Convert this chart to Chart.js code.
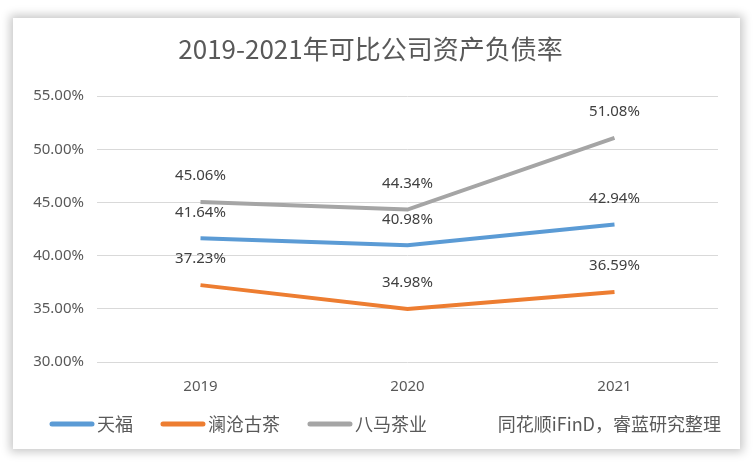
<!DOCTYPE html>
<html>
<head>
<meta charset="utf-8">
<script src="https://cdn.jsdelivr.net/npm/chart.js@4/dist/chart.umd.min.js"></script>
<style>
  html, body { margin: 0; padding: 0; background: #ffffff; }
  body { width: 756px; height: 468px; position: relative; overflow: hidden; }
  .card {
    position: absolute; left: 13px; top: 18px; width: 727px; height: 431px;
    background: #ffffff;
    box-shadow: 0 0 9px 3px rgba(0, 0, 0, 0.22);
  }
  canvas { display: block; }
</style>
</head>
<body>
<div class="card"><canvas id="chart" width="727" height="431"></canvas></div>
<script>
const years = ["2019", "2020", "2021"];
const tianfu = [41.64, 40.98, 42.94];
const lancang = [37.23, 34.98, 36.59];
const bama = [45.06, 44.34, 51.08];
const seriesNames = ["天福", "澜沧古茶", "八马茶业"];
const sourceText = "同花顺iFinD，睿蓝研究整理";

const textColor = "#595959";
const numFont = "'Noto Sans', 'Open Sans', sans-serif";
const cjkFont = "'Noto Sans CJK SC', sans-serif";

const valueLabels = {
  id: "valueLabels",
  afterDatasetsDraw(chart) {
    const { ctx } = chart;
    ctx.save();
    ctx.font = `15px ${numFont}`;
    ctx.fillStyle = "#404040";
    ctx.textAlign = "center";
    ctx.textBaseline = "middle";
    chart.data.datasets.forEach((ds, i) => {
      const meta = chart.getDatasetMeta(i);
      meta.data.forEach((el, j) => {
        ctx.fillText(ds.data[j].toFixed(2) + "%", el.x, el.y - 26);
      });
    });
    ctx.restore();
  },
};

// bottom row: series key on the left, source note on the right
const bottomRow = {
  id: "bottomRow",
  afterDraw(chart) {
    const { ctx } = chart;
    const y = 406;
    ctx.save();
    ctx.font = `18px ${cjkFont}`;
    ctx.fillStyle = textColor;
    ctx.textBaseline = "middle";
    let x = 37;
    chart.data.datasets.forEach((ds) => {
      ctx.strokeStyle = ds.borderColor;
      ctx.lineWidth = 5;
      ctx.lineCap = "round";
      ctx.beginPath();
      ctx.moveTo(x + 2, y);
      ctx.lineTo(x + 42, y);
      ctx.stroke();
      ctx.textAlign = "left";
      ctx.fillText(ds.label, x + 47, y);
      x += 47 + ctx.measureText(ds.label).width + 28;
    });
    ctx.textAlign = "right";
    ctx.fillText(sourceText, 708, y);
    ctx.restore();
  },
};

const makeSeries = (label, data, color) => ({
  label,
  data,
  borderColor: color,
  backgroundColor: color,
  borderWidth: 4,
  pointRadius: 0,
  tension: 0,
});

new Chart(document.getElementById("chart"), {
  type: "line",
  data: {
    labels: years,
    datasets: [
      makeSeries(seriesNames[0], tianfu, "#5B9BD5"),
      makeSeries(seriesNames[1], lancang, "#ED7D31"),
      makeSeries(seriesNames[2], bama, "#A5A5A5"),
    ],
  },
  options: {
    responsive: false,
    animation: false,
    layout: { padding: { left: 10, right: 22, top: 0, bottom: 42 } },
    plugins: {
      title: {
        display: true,
        text: "2019-2021年可比公司资产负债率",
        color: textColor,
        font: { family: cjkFont, size: 26, weight: "normal" },
        padding: { top: 16, bottom: 31 },
      },
      legend: { display: false },
      tooltip: { enabled: false },
    },
    scales: {
      x: {
        offset: true,
        grid: { display: false },
        border: { display: false },
        ticks: { color: textColor, font: { family: numFont, size: 15 }, padding: 8 },
        afterFit(scale) { scale.height = 45; },
      },
      y: {
        min: 30,
        max: 55,
        grid: { color: "#D9D9D9", lineWidth: 1, drawTicks: false },
        border: { display: false },
        ticks: {
          stepSize: 5,
          color: textColor,
          font: { family: numFont, size: 15 },
          padding: 13,
          callback: (v) => v.toFixed(2) + "%",
        },
        afterFit(scale) { scale.width = 74; },
      },
    },
  },
  plugins: [valueLabels, bottomRow],
});
</script>
</body>
</html>
